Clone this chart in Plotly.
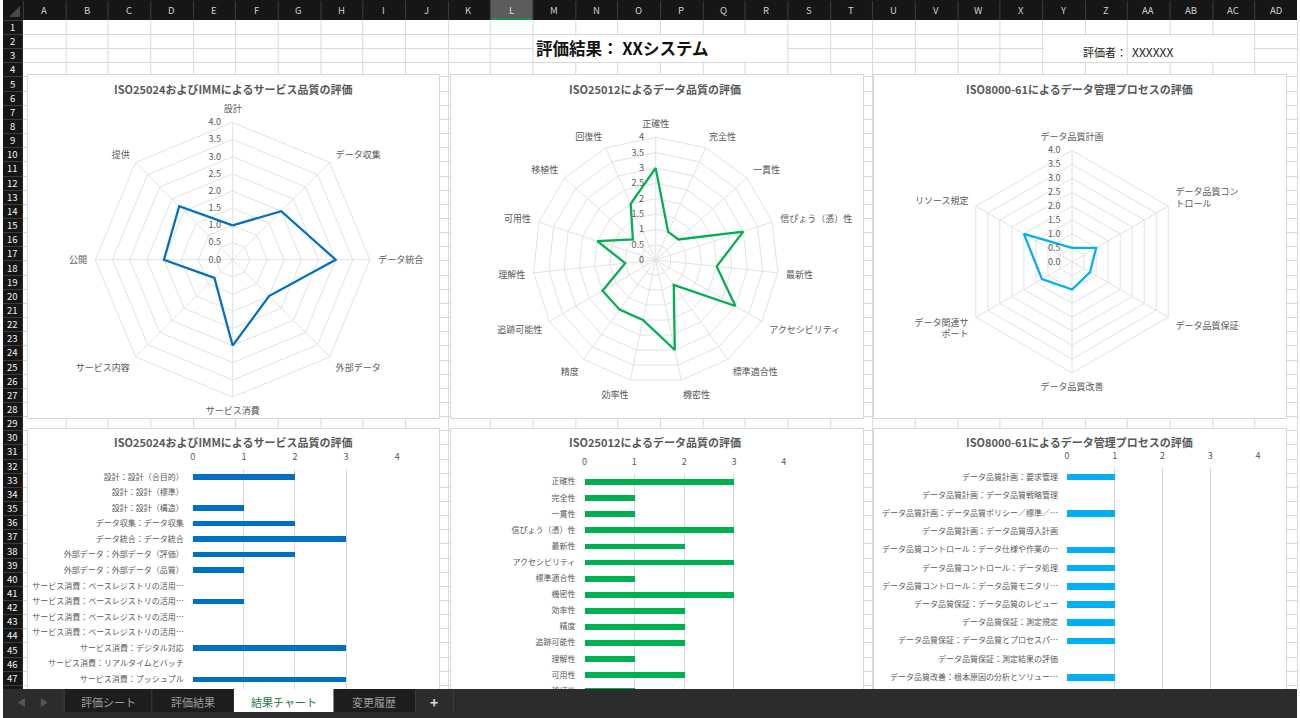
import plotly.graph_objects as go

W, H = 1300, 718
FONT = "Noto Sans CJK JP"
TXT = "#595959"
SHEET_GRID = "#d9d9d9"
RGRID = "#e2e2e2"

# ---------------- data ----------------
svc_axes = ["設計", "データ収集", "データ統合", "外部データ", "サービス消費", "サービス内容", "公開", "提供"]
svc_scores = [1.0, 2.0, 3.0, 1.5, 2.5, 0.75, 2.0, 2.2]

dq_axes = ["正確性", "完全性", "一貫性", "信ぴょう（憑）性", "最新性", "アクセシビリティ", "標準適合性",
           "機密性", "効率性", "精度", "追跡可能性", "理解性", "可用性", "移植性", "回復性"]
dq_scores = [3, 1, 1, 3, 2, 3, 1, 3, 2, 2, 2, 1, 2, 1, 2]

dm_axes = ["データ品質計画", "データ品質コントロール", "データ品質保証", "データ品質改善", "データ関連サポート", "リソース規定"]
dm_axis_text = ["データ品質計画", "データ品質コン<br>トロール", "データ品質保証", "データ品質改善", "データ関連サ<br>ポート", "リソース規定"]
dm_scores = [0.5, 1.0, 0.75, 1.0, 1.25, 2.0]

svc_items = ["設計：設計（合目的）", "設計：設計（標準）", "設計：設計（構造）", "データ収集：データ収集",
             "データ統合：データ統合", "外部データ：外部データ（評価）", "外部データ：外部データ（品質）",
             "サービス消費：ベースレジストリの活用…", "サービス消費：ベースレジストリの活用…",
             "サービス消費：ベースレジストリの活用…", "サービス消費：ベースレジストリの活用…",
             "サービス消費：デジタル対応", "サービス消費：リアルタイムとバッチ", "サービス消費：プッシュプル"]
svc_item_scores = [2, 0, 1, 2, 3, 2, 1, 0, 1, 0, 0, 3, 0, 3]

dm_items = ["データ品質計画：要求管理", "データ品質計画：データ品質戦略管理",
            "データ品質計画：データ品質ポリシー／標準／…", "データ品質計画：データ品質導入計画",
            "データ品質コントロール：データ仕様や作業の…", "データ品質コントロール：データ処理",
            "データ品質コントロール：データ品質モニタリ…", "データ品質保証：データ品質のレビュー",
            "データ品質保証：測定規定", "データ品質保証：データ品質とプロセスパ…",
            "データ品質保証：測定結果の評価", "データ品質改善：根本原因の分析とソリュー…"]
dm_item_scores = [1, 0, 1, 0, 1, 1, 1, 1, 1, 1, 0, 1]

radial_ticks = [0, 0.5, 1.0, 1.5, 2.0, 2.5, 3.0, 3.5, 4.0]
bar_ticks = [0, 1, 2, 3, 4]

title_svc = "ISO25024およびIMMによるサービス品質の評価"
title_dq = "ISO25012によるデータ品質の評価"
title_dm = "ISO8000-61によるデータ管理プロセスの評価"

col_letters = ["A", "B", "C", "D", "E", "F", "G", "H", "I", "J", "K", "L", "M", "N", "O", "P", "Q", "R",
               "S", "T", "U", "V", "W", "X", "Y", "Z", "AA", "AB", "AC", "AD"]
row_numbers = list(range(1, 48))
sheet_tabs = ["評価シート", "評価結果", "結果チャート", "変更履歴"]
active_tab = "結果チャート"
sheet_title = "評価結果： XXシステム"
evaluator_label = "評価者："
evaluator_name = "XXXXXX"

# ---------------- helpers ----------------
def fx(x):
    return x / W

def fy(y):
    return 1 - y / H

def P(x, y):
    return f"{fx(x):.6f},{fy(y):.6f}"

COLW = 42.667
ROWH = 14.15
X0, Y0 = 20.0, 19.9
xs = [X0 + COLW * k for k in range(31)]
ys = [Y0 + ROWH * r for r in range(49)]

fig = go.Figure()

# ---------------- radar traces ----------------
radars = [
    ("polar", svc_axes, svc_scores, "#0070C0"),
    ("polar2", dq_axes, dq_scores, "#00B050"),
    ("polar3", dm_axes, dm_scores, "#00B0F0"),
]
for sub, cats, vals, col in radars:
    fig.add_trace(go.Scatterpolar(
        r=list(vals) + [vals[0]], theta=list(cats) + [cats[0]], mode="lines",
        line=dict(color=col, width=2.25), subplot=sub, showlegend=False, hoverinfo="skip"))

# ---------------- bar traces ----------------
bars = [
    ("x", "y", svc_items, svc_item_scores, "#0070C0"),
    ("x2", "y2", dq_axes, dq_scores, "#00B050"),
    ("x3", "y3", dm_items, dm_item_scores, "#00B0F0"),
]
for xa, ya, labels, vals, col in bars:
    fig.add_trace(go.Bar(
        x=vals, y=list(range(len(vals))), orientation="h", width=0.36,
        marker=dict(color=col, line=dict(width=0)), xaxis=xa, yaxis=ya,
        showlegend=False, hoverinfo="skip"))

# ---------------- layout: polar ----------------
def polar_layout(cx, cy, R, cats, ticktext, fmt):
    return dict(
        domain=dict(x=[fx(cx - R), fx(cx + R)], y=[fy(cy + R), fy(cy - R)]),
        bgcolor="rgba(0,0,0,0)",
        gridshape="linear",
        angularaxis=dict(
            type="category", categoryorder="array", categoryarray=cats,
            rotation=90, direction="clockwise",
            tickmode="array", tickvals=cats, ticktext=ticktext,
            showline=True, linecolor=RGRID, linewidth=1,
            showgrid=True, gridcolor=RGRID, gridwidth=1,
            ticks="outside", ticklen=6, tickcolor="rgba(0,0,0,0)",
            tickfont=dict(family=FONT, size=9, color=TXT)),
        radialaxis=dict(
            range=[0, 4], tickmode="array", tickvals=radial_ticks, tickformat=fmt,
            angle=90, side="counterclockwise", showline=False,
            showgrid=True, gridcolor=RGRID, gridwidth=1,
            ticks="outside", ticklen=8, tickcolor="rgba(0,0,0,0)", tickangle=90,
            tickfont=dict(family=FONT, size=9, color=TXT)),
    )

layout = dict(
    width=W, height=H, margin=dict(l=0, r=0, t=0, b=0),
    paper_bgcolor="white", plot_bgcolor="rgba(0,0,0,0)",
    font=dict(family=FONT, color=TXT),
    showlegend=False, bargap=0,
    polar=polar_layout(230.7, 259.7, 138.0, svc_axes, svc_axes, ".1f"),
    polar2=polar_layout(655.7, 260.0, 123.3, dq_axes, dq_axes, ""),
    polar3=polar_layout(1074.0, 261.7, 111.7, dm_axes, dm_axis_text, ".1f"),
)

# ---------------- layout: bars ----------------
bar_geo = [  # x at 0, x at 4, plot top, category spacing (px)
    (190.7, 396.0, 468.9, 15.58),
    (584.3, 784.3, 473.6, 16.1),
    (1069.0, 1260.7, 467.6, 18.2),
]
for i, ((x0, x4, top, sp), (_, _, labels, vals, _)) in enumerate(zip(bar_geo, bars)):
    sfx = "" if i == 0 else str(i + 1)
    layout["xaxis" + sfx] = dict(
        domain=[fx(x0), fx(x4)], range=[0, 4], anchor="y" + sfx, side="top",
        tickmode="array", tickvals=bar_ticks, showgrid=True, gridcolor=SHEET_GRID, gridwidth=1,
        zeroline=False, showline=False, ticks="outside", ticklen=4, tickcolor="rgba(0,0,0,0)",
        tickfont=dict(family=FONT, size=9, color=TXT), fixedrange=True)
    layout["yaxis" + sfx] = dict(
        domain=[0, fy(top)], range=[-0.5 + (H - top) / sp, -0.5], anchor="x" + sfx,
        tickmode="array", tickvals=list(range(len(labels))), ticktext=labels,
        showgrid=False, zeroline=False, showline=False, ticks="", ticklabelstandoff=8,
        tickfont=dict(family=FONT, size=8, color=TXT), fixedrange=True)

fig.update_layout(**layout)

# ---------------- sheet chrome (shapes) ----------------
shapes = []
# cell grid
vpath = "".join(f"M{P(round(x) + 0.5, Y0)}L{P(round(x) + 0.5, 689)}" for x in xs[1:])
hpath = "".join(f"M{P(X0, round(y) + 0.5)}L{P(W, round(y) + 0.5)}" for y in ys[1:])
for pth in (vpath, hpath):
    shapes.append(dict(type="path", xref="paper", yref="paper", path=pth,
                       line=dict(color=SHEET_GRID, width=1), layer="below"))

def rect(x0, y0, x1, y1, fill, line=None, layer="below", lw=1):
    return dict(type="rect", xref="paper", yref="paper", x0=fx(x0), x1=fx(x1), y0=fy(y1), y1=fy(y0),
                fillcolor=fill, line=dict(color=line or "rgba(0,0,0,0)", width=lw if line else 0),
                layer=layer)

# merged cells
for c0, c1 in ((12, 18), (24, 26), (26, 29)):
    shapes.append(rect(round(xs[c0]) + 1.5, round(ys[1]) + 1.5, round(xs[c1]) - 0.5, round(ys[3]) - 0.5, "white"))

# chart boxes
for (x0, x1) in ((24, 438), (449, 864), (874, 1289)):
    shapes.append(rect(x0 + 0.5, 74.5, x1 + 0.5, 418.5, "white", "#d6d6d6"))
    shapes.append(rect(x0 + 0.5, 428.5, x1 + 0.5, 716, "white", "#d6d6d6"))

# column header
shapes.append(rect(0, 0, W, Y0, "#161616"))
li = col_letters.index("L")
shapes.append(rect(xs[li], 0, xs[li + 1], Y0, "#5c5c5c"))
shapes.append(rect(xs[li], Y0 - 2, xs[li + 1], Y0, "#1e8c4e"))
shapes.append(dict(type="path", xref="paper", yref="paper",
                   path="".join(f"M{P(round(x) + 0.5, 1)}L{P(round(x) + 0.5, Y0)}" for x in xs[:-1]),
                   line=dict(color="#3d3d3d", width=1), layer="below"))
shapes.append(dict(type="path", xref="paper", yref="paper",
                   path=f"M{P(17, 6)}L{P(17, 17)}L{P(6, 17)}Z", fillcolor="#4a4a4a",
                   line=dict(width=0), layer="below"))
# row header
shapes.append(rect(0, Y0, X0, 689, "#161616"))
shapes.append(dict(type="path", xref="paper", yref="paper",
                   path="".join(f"M{P(0, round(y) + 0.5)}L{P(X0, round(y) + 0.5)}" for y in ys[:48]),
                   line=dict(color="#3d3d3d", width=1), layer="below"))

# tab bar (above, covers clipped bars)
shapes.append(rect(0, 689, W, H, "#2c2c2c", layer="above"))
shapes.append(rect(62, 689, 414, 712, "#1d1d1d", layer="above"))
shapes.append(rect(232, 689, 332, 712, "white", layer="above"))
shapes.append(dict(type="path", xref="paper", yref="paper", layer="above",
                   path="".join(f"M{P(x + 0.5, 689)}L{P(x + 0.5, 712)}" for x in (61, 149, 414, 452)),
                   line=dict(color="#3e3e3e", width=1)))
shapes.append(dict(type="path", xref="paper", yref="paper", layer="above",
                   path=f"M{P(15, 702.5)}L{P(22, 698)}L{P(22, 707)}Z", fillcolor="#555555",
                   line=dict(width=0)))
shapes.append(dict(type="path", xref="paper", yref="paper", layer="above",
                   path=f"M{P(45, 702.5)}L{P(38, 698)}L{P(38, 707)}Z", fillcolor="#555555",
                   line=dict(width=0)))

fig.update_layout(shapes=shapes)

# ---------------- annotations ----------------
ann = []

def text(x, y, s, size, color=TXT, bold=False, xanchor="center"):
    ann.append(dict(x=fx(x), y=fy(y), xref="paper", yref="paper", text=f"<b>{s}</b>" if bold else s,
                    showarrow=False, xanchor=xanchor, yanchor="middle",
                    font=dict(family=FONT, size=size, color=color)))

for k, letter in enumerate(col_letters):
    text((xs[k] + xs[k + 1]) / 2, Y0 / 2 + 0.5, letter, 9.5, "#e0e0e0" if letter == "L" else "#cfcfcf")
for r in row_numbers:
    text(X0 / 2, ys[r - 1] + ROWH / 2, str(r), 9.5, "#f0f0f0")

text(533, 47.5, sheet_title, 16.5, "#111111", bold=True, xanchor="left")
ann.append(dict(x=fx(xs[26] + 2), y=fy(51.5), xref="paper", yref="paper", text=evaluator_label,
                showarrow=False, xanchor="right", yanchor="middle",
                font=dict(family=FONT, size=11, color="#222222")))
text(xs[26] + 3, 51.5, evaluator_name, 12, "#222222", xanchor="left")

for cx, t in ((230.7, title_svc), (655.3, title_dq), (1081.7, title_dm)):
    text(cx, 89, t, 11, TXT, bold=True)
    text(cx, 442.3, t, 11, TXT, bold=True)

tab_centers = [105.5, 190.5, 282, 372.5]
for cx, name in zip(tab_centers, sheet_tabs):
    text(cx, 702, name, 11, "#1e7b45" if name == active_tab else "#9c9c9c")
text(433, 701.5, "<b>+</b>", 14, "#dddddd")

fig.update_layout(annotations=ann)

fig.write_html("out.html")
